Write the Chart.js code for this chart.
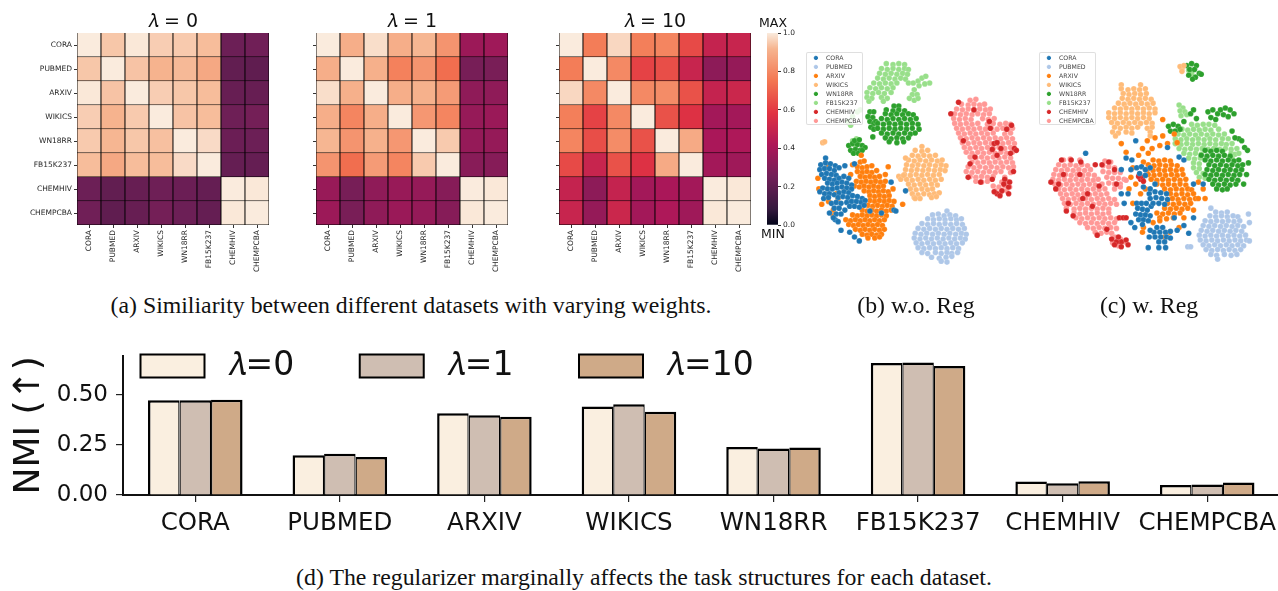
<!DOCTYPE html>
<html>
<head>
<meta charset="utf-8">
<script src="https://cdn.jsdelivr.net/npm/chart.js@4"></script>
<style>
body { margin: 0; background: #fff; overflow: hidden; width: 1278px; height: 591px; position: relative; }
canvas { position: absolute; }
.cap { position: absolute; font-family: "Liberation Serif", serif; font-size: 23.8px; color: #111; white-space: nowrap; transform: translateX(-50%); }
.mm { position: absolute; font-family: "DejaVu Sans", sans-serif; font-size: 12.5px; color: #111; transform: translateX(-50%); }
.legbox { position: absolute; width: 55px; height: 71px; top: 52px; background: rgba(255,255,255,.8); border: 1px solid rgba(215,215,215,.8); border-radius: 2px; }
</style>
</head>
<body>
<canvas id="heat0" width="250" height="285" style="left:20px;top:0"></canvas>
<canvas id="heat1" width="215" height="285" style="left:296px;top:0"></canvas>
<canvas id="heat2" width="215" height="285" style="left:539px;top:0"></canvas>
<canvas id="cbar" width="50" height="215" style="left:767px;top:20px"></canvas>
<div class="mm" style="left:773px;top:15px">MAX</div>
<div class="mm" style="left:773px;top:226px">MIN</div>
<canvas id="scat_b" width="240" height="240" style="left:800px;top:40px"></canvas>
<canvas id="scat_c" width="240" height="240" style="left:1035px;top:40px"></canvas>
<div class="legbox" style="left:806px"></div>
<div class="legbox" style="left:1039px"></div>
<canvas id="leg_b" width="120" height="80" style="left:810px;top:52px"></canvas>
<canvas id="leg_c" width="120" height="80" style="left:1043px;top:52px"></canvas>
<div class="cap" style="left:411px;top:292px">(a) Similiarity between different datasets with varying weights.</div>
<div class="cap" style="left:916px;top:292px">(b) w.o. Reg</div>
<div class="cap" style="left:1149px;top:292px">(c) w. Reg</div>
<canvas id="bars" width="1283" height="216" style="left:0;top:334px"></canvas>
<canvas id="bars_leg" width="800" height="220" style="left:74.5px;top:283.5px"></canvas>
<div class="cap" style="left:644px;top:564px">(d) The regularizer marginally affects the task structures for each dataset.</div>

<script>
const names = ["CORA", "PUBMED", "ARXIV", "WIKICS", "WN18RR", "FB15K237", "CHEMHIV", "CHEMPCBA"];
const lambdas = ["0", "1", "10"];

// similarity matrices
const sim0 = [
	[1, .945, .995, .955, .95, .93, .24, .25],
	[.945, 1, .94, .915, .925, .885, .21, .205],
	[.995, .94, 1, .955, .945, .93, .225, .225],
	[.955, .915, .95, 1, .94, .93, .245, .26],
	[.95, .92, .945, .935, 1, .975, .235, .24],
	[.93, .885, .93, .93, .975, 1, .22, .22],
	[.24, .21, .225, .245, .235, .22, 1, .995],
	[.25, .205, .225, .26, .24, .22, .995, 1]
];
const sim1 = [
	[1, .9, .98, .9, .92, .83, .37, .38],
	[.9, 1, .905, .78, .83, .73, .27, .275],
	[.98, .905, 1, .9, .91, .85, .335, .335],
	[.9, .79, .9, 1, .84, .79, .355, .365],
	[.92, .83, .91, .84, 1, .95, .35, .35],
	[.83, .73, .85, .79, .95, 1, .315, .31],
	[.36, .27, .335, .36, .35, .31, 1, .995],
	[.37, .275, .335, .365, .35, .31, .995, 1]
];
const sim10 = [
	[1, .77, .97, .775, .79, .64, .49, .5],
	[.77, 1, .8, .62, .65, .5, .33, .35],
	[.97, .8, 1, .8, .81, .66, .49, .51],
	[.775, .62, .8, 1, .66, .57, .39, .39],
	[.79, .65, .81, .66, 1, .89, .41, .42],
	[.64, .5, .66, .57, .89, 1, .39, .38],
	[.49, .33, .49, .39, .41, .39, 1, .995],
	[.5, .35, .51, .39, .42, .38, .995, 1]
];

// NMI bars
const nmi0 = [.473, .198, .408, .442, .24, .659, .067, .05];
const nmi1 = [.473, .206, .398, .453, .232, .661, .059, .052];
const nmi10 = [.475, .19, .391, .416, .237, .644, .069, .062];
const nmiTicks = [0, .25, .5];
const barColors = ["#faefe0", "#cfbeb2", "#cfaa88"];

const tab = ["#1f77b4", "#aec7e8", "#ff7f0e", "#ffbb78", "#2ca02c", "#98df8a", "#d62728", "#ff9896"];

// t-SNE points (b) as x,y pairs
const b_cora = [22,118,17,125,22,123,27,124,32,126,16,130,21,129,26,129,31,131,36,128,18,135,23,134,28,135,33,136,21,139,26,140,31,141,36,139,41,137,46,139,24,144,29,145,34,144,39,143,44,144,49,146,19,149,24,150,29,150,34,149,39,148,44,149,49,150,16,153,21,155,26,155,31,156,36,154,41,153,46,154,20,160,25,159,35,159,40,158,45,159,50,157,55,158,60,160,44,164,49,163,54,163,59,164,63,162,47,168,52,168,57,169,62,167,28,165,33,164,38,165,31,170,36,170,42,172,26,175,33,176,38,176,42,126,52,124,90,143,93,172,105,152,38,193,47,195,57,204,52,200,32,182,35,184,80,175,95,173,30,180,68,173];
const b_pubmed = [148,173,133,177,139,176,145,178,151,177,157,178,128,181,134,182,140,181,146,182,152,181,158,182,163,181,122,186,128,187,134,186,140,187,146,186,152,187,158,186,164,187,118,191,124,192,130,191,136,192,142,191,148,192,154,191,160,192,166,191,115,196,121,197,127,196,133,197,139,196,145,197,151,196,157,197,163,196,168,197,114,201,120,202,126,201,132,202,138,201,144,202,150,201,156,202,162,201,167,202,116,206,122,207,128,206,134,207,140,206,146,207,152,206,158,207,164,206,118,211,124,212,130,211,136,212,142,211,148,212,154,211,160,212,122,216,128,217,136,216,142,217,148,216,153,217,159,216,132,221,140,222,147,221,153,220,142,225,148,226];
const b_arxiv = [58,122,62,121,55,127,60,128,65,127,70,126,55,132,60,133,65,132,70,133,75,131,58,137,63,138,68,137,73,138,78,137,54,142,59,143,64,142,69,143,74,142,79,143,84,142,52,147,57,148,62,147,67,148,72,147,77,148,82,147,62,152,67,153,72,152,77,153,82,152,87,153,68,157,73,158,78,157,83,158,88,157,68,162,73,163,78,162,83,163,88,162,93,163,66,167,71,168,76,167,81,168,86,167,91,168,60,172,65,173,70,172,75,173,80,172,85,173,90,172,50,177,55,178,60,177,65,178,70,177,75,178,80,177,85,178,43,182,48,183,53,182,58,183,63,182,68,183,73,182,78,183,83,182,46,187,51,188,56,187,61,188,66,187,71,188,76,187,81,188,53,192,58,193,63,192,68,193,73,192,78,193,83,192,60,197,65,198,70,197,75,198,80,197,66,201,73,201,78,200,87,127,102,166,14,139,18,166,25,163,33,155,50,125,59,115,25,127,30,172,35,160,42,150,48,135,15,150,30,178,92,150,84,135];
const b_wikics = [122,106,115,110,122,111,128,110,112,115,118,116,124,115,130,116,136,115,108,120,114,121,120,120,126,121,132,120,138,121,143,120,106,125,112,126,118,125,124,126,130,125,136,126,142,125,147,126,105,130,111,131,117,130,123,131,129,130,135,131,141,130,146,131,104,135,110,136,116,135,122,136,128,135,134,136,140,135,106,140,112,141,118,140,124,141,130,140,136,141,142,140,108,145,114,146,120,145,126,146,132,145,138,146,110,150,116,151,122,150,128,151,133,150,112,155,118,156,124,155,130,156,135,155,140,154,114,159,120,160,132,159,137,158,98,137,100,140,103,136,105,118,19,102,21,101,115,160];
const b_wn = [68,70,72,70,66,75,71,76,68,80,72,82,69,86,72,88,74,80,71,96,93,64,98,64,85,68,92,69,98,68,104,69,84,72,90,73,96,72,102,73,108,72,113,73,80,77,86,78,92,77,98,78,104,77,110,78,116,77,76,82,82,83,88,82,94,83,100,82,106,83,112,82,118,83,76,87,82,88,88,87,94,88,100,87,106,88,112,87,119,88,80,92,86,93,92,92,98,93,104,92,110,93,115,92,84,97,90,98,96,97,102,98,108,97,88,101,96,102,103,101,46,105,50,103,55,104,60,105,63,107,48,110,53,109,58,110,51,113,56,113,60,110,52,100,57,99];
const b_fb = [85,20,92,21,98,20,104,21,80,25,86,26,92,25,98,26,104,25,108,26,78,30,84,31,90,30,96,31,102,30,107,31,76,35,82,36,88,35,94,36,100,35,105,36,72,40,78,41,84,40,90,41,96,40,68,45,74,46,80,45,86,46,92,45,65,50,71,51,77,50,83,51,90,50,65,55,70,56,80,55,86,56,67,59,82,59,108,40,113,40,118,38,122,35,126,33,130,40,125,41,119,43,114,47,112,52,117,52,109,56,114,58,118,56,50,100,54,98,52,104,56,102,45,80,50,75,55,70,48,84,58,68];
const b_hiv = [152,72,160,60,197,103,200,102,218,108,210,88,177,117,217,132,183,143,200,155,208,140,212,148,197,153,205,152,212,155,203,157,207,145,213,143,220,110,214,113,204,108,195,109,172,124,200,115,193,87,215,84,176,68,192,80,165,100,170,138,195,140];
const b_pcba = [172,58,178,57,163,62,170,63,176,62,182,63,187,62,158,67,164,68,170,67,176,68,182,67,188,68,193,67,156,72,162,73,168,72,174,73,180,72,186,73,192,72,155,77,161,78,167,77,173,78,185,77,191,78,197,77,156,82,162,83,168,82,174,83,180,82,190,83,196,82,203,83,209,82,214,83,158,87,164,88,170,87,176,88,182,87,188,88,194,87,200,88,206,87,212,88,216,87,160,92,166,93,172,92,178,93,184,92,190,93,196,92,208,93,214,92,162,97,168,98,174,97,180,98,186,97,192,98,198,97,204,98,210,97,216,98,164,102,170,103,176,102,182,103,188,102,194,103,200,102,206,103,212,102,218,103,166,107,172,108,178,107,184,108,190,107,196,108,202,107,208,108,214,107,168,112,174,113,180,112,186,113,192,112,198,113,204,112,210,113,216,112,172,117,178,118,184,117,190,118,196,117,202,118,208,117,214,118,174,122,180,123,186,122,192,123,198,122,204,123,210,122,216,123,170,127,176,128,182,127,188,128,194,127,200,128,206,127,212,128,217,127,168,132,174,133,180,132,186,133,192,132,198,133,204,132,214,133,172,137,178,138,184,137,190,138,196,137,208,138,178,142,184,143,190,142,205,143,210,142,196,147,202,148,208,147,213,148,198,152,204,153,210,152];

// same for panel (c)
const c_cora = [101,165,106,165,111,165,116,168,102,170,107,171,112,172,100,176,105,177,110,177,115,178,103,182,108,182,113,183,107,187,114,155,120,153,126,154,132,155,115,160,121,159,127,160,133,161,118,165,124,165,130,166,122,190,128,190,119,195,125,195,131,195,136,194,120,200,126,200,132,200,136,201,124,205,130,205,101,128,106,127,110,130,104,134,110,136,115,128,96,120,90,118,95,130,85,130,100,100,133,107,120,145,108,148,115,150,88,165,92,155,85,155,140,180,143,193,150,188,160,180,155,196,113,211,124,211,131,211,99,190,114,200,115,193,48,113,170,145,160,145,145,117,150,120,95,185];
const c_pubmed = [178,170,183,174,189,175,195,174,177,178,183,179,189,178,195,179,201,178,206,179,172,183,178,184,184,183,190,184,196,183,202,184,208,183,170,188,176,189,182,188,188,189,194,188,200,189,206,188,212,189,168,193,174,194,180,193,186,194,192,193,198,194,204,193,210,194,166,198,172,199,178,198,184,199,190,198,196,199,202,198,208,199,214,198,167,203,173,204,179,203,185,204,191,203,197,204,203,203,209,204,215,203,218,204,170,208,176,209,182,208,188,209,194,208,200,209,206,208,212,209,173,213,179,214,185,213,191,214,197,213,203,214,209,213,178,218,184,219,192,218,199,219,205,218,185,223,154,210,157,210,217,176,218,185];
const c_arxiv = [118,120,124,121,130,120,136,121,113,125,119,126,125,125,131,126,137,125,143,126,112,130,118,131,124,130,130,131,136,130,142,131,148,130,113,135,119,136,125,135,131,136,137,135,143,136,149,135,116,140,122,141,128,140,134,141,140,140,146,141,152,140,122,145,128,146,134,145,140,146,146,145,152,146,130,150,136,151,142,150,148,151,154,150,158,151,136,155,142,156,148,155,154,156,160,155,138,160,144,161,150,160,156,161,162,160,133,165,139,166,145,165,151,166,157,165,130,170,136,171,142,170,148,171,154,170,122,175,128,176,134,175,140,176,146,175,125,180,132,181,139,180,107,108,112,100,120,97,128,95,133,103,117,108,125,105,113,113,103,115,108,122,97,128,95,138,100,145,93,150,97,165,105,155,110,150,85,103,90,112,165,143,170,150,165,160,172,160,160,172,150,180,108,190,107,195,135,195,130,200,125,183,118,185,145,190,140,93,143,102,128,78];
const c_wikics = [85,42,105,42,85,46,92,47,98,46,104,47,110,46,87,51,93,52,99,51,105,52,111,51,86,56,92,57,98,56,104,57,110,56,116,57,82,61,88,62,94,61,100,62,106,61,112,62,118,61,78,66,84,67,90,66,96,67,102,66,108,67,114,66,120,67,72,71,78,72,84,71,90,72,96,71,102,72,108,71,114,72,120,71,72,76,78,77,84,76,90,77,96,76,102,77,108,76,114,77,75,81,81,82,87,81,93,82,99,81,105,82,111,81,117,82,78,86,84,87,90,86,96,87,102,86,112,87,117,86,76,91,82,92,90,91,96,92,115,91,79,95,115,95,148,25,146,23,150,22,148,28];
const c_wn = [172,110,178,111,184,110,190,111,168,115,174,116,180,115,186,116,192,115,198,116,172,120,178,121,184,120,190,121,196,120,202,121,207,120,176,125,182,126,188,125,194,126,200,125,206,126,211,125,174,130,180,131,186,130,192,131,198,130,204,131,210,130,172,135,178,136,184,135,190,136,196,135,202,136,208,135,176,140,182,141,188,140,194,141,200,140,206,141,180,145,186,146,192,145,198,146,204,145,184,150,190,151,195,150,175,70,180,68,185,72,178,76,183,78,188,68,193,66,198,68,202,72,191,73,196,75,134,85,139,83,144,85,136,90,141,90,146,88,153,22,158,20,163,22,156,26,161,26,166,30,162,34,155,32,168,31,159,36,207,98,213,107,217,123,203,97,163,77,150,80,157,72,160,68,200,90,210,100,216,110,215,135,212,145];
const c_fb = [158,83,164,84,170,83,176,83,182,84,148,88,154,89,160,88,166,89,172,88,178,89,186,88,144,93,150,94,156,93,162,94,168,93,174,94,180,93,186,94,192,93,141,98,147,99,153,98,159,99,165,98,171,99,177,98,183,99,190,98,196,98,141,103,147,104,153,103,159,104,165,103,171,104,177,103,183,104,189,103,194,104,200,103,145,108,151,109,157,108,163,109,169,108,175,109,181,108,187,109,193,108,199,109,205,108,150,113,156,114,162,113,168,114,199,113,203,114,207,113,155,118,161,119,167,118,200,118,160,123,166,124,160,128,166,129,163,133,170,134,166,138,172,139,145,63,149,66,146,69,151,70,153,73,147,74,155,27,158,30];
const c_hiv = [23,120,33,120,43,122,58,125,12,143,20,145,28,173,35,178,60,198,85,205,83,180,87,180,90,180,65,125,72,122,78,130,80,145,105,140,107,138,103,137,108,142,62,147,50,155,55,168,45,160,25,135,17,150,30,165,75,202,80,205,90,203,85,210,78,208,92,208,82,200,42,135,70,192];
const c_pcba = [25,120,32,119,42,120,20,125,26,126,32,125,38,126,44,125,50,126,17,130,23,131,29,130,35,131,41,130,47,131,53,130,15,135,21,136,27,135,33,136,39,135,45,136,51,135,57,136,14,140,20,141,26,140,32,141,38,140,44,141,50,140,56,141,61,140,16,145,22,146,28,145,34,146,40,145,46,146,52,145,58,146,65,145,20,150,26,151,32,150,38,151,44,150,50,151,56,150,62,151,68,150,22,155,28,156,34,155,40,156,46,155,52,156,58,155,64,156,70,155,24,160,30,161,36,160,42,161,48,160,54,161,60,160,66,161,72,160,78,161,26,165,32,166,38,165,44,166,50,165,56,166,62,165,68,166,74,165,80,166,28,170,36,171,42,170,48,171,54,170,60,171,66,170,72,171,36,175,42,176,48,175,54,176,60,175,66,176,72,175,38,180,44,181,50,180,56,181,62,180,68,181,74,180,80,181,42,185,48,186,54,185,60,186,66,185,72,186,78,185,50,190,56,191,62,190,68,191,74,190,80,191,58,195,64,196,70,195,75,196,68,121,74,122,66,126,72,127,78,128,66,132,72,133,78,133,84,133,70,138,76,139,82,139,88,140,72,144,78,145,84,145,90,141,78,150,84,148,78,200,84,202,76,206,88,205,82,209];

const scatter_b = [b_cora, b_pubmed, b_arxiv, b_wikics, b_wn, b_fb, b_hiv, b_pcba];
const scatter_c = [c_cora, c_pubmed, c_arxiv, c_wikics, c_wn, c_fb, c_hiv, c_pcba];

// rocket colormap anchors
const rocket_pos = [0, .083, .25, .417, .583, .75, .917, 1];
const rocket_col = [[3,5,26],[53,25,62],[112,31,87],[173,23,89],[225,51,66],[243,118,81],[246,180,143],[250,235,221]];

const sans = "'DejaVu Sans', sans-serif";
Chart.defaults.animation = false;
Chart.defaults.responsive = false;
Chart.defaults.font.family = sans;

function rocket(v) {
	let i = 0;
	while (i < rocket_pos.length - 2 && v > rocket_pos[i + 1]) i++;
	let t = (v - rocket_pos[i]) / (rocket_pos[i + 1] - rocket_pos[i]);
	let c = rocket_col[i].map((a, k) => Math.round(a + (rocket_col[i + 1][k] - a) * t));
	return "rgb(" + c.join(",") + ")";
}

function makeHeat(id, matrix, title, labelW, padRight, showY) {
	new Chart(document.getElementById(id), {
		type: "bar",
		data: {
			labels: names,
			datasets: matrix.map((row, r) => ({
				data: row.map(() => [r, r + 1]),
				backgroundColor: row.map(rocket),
				borderColor: "#000",
				borderWidth: 0.8,
				barPercentage: 1,
				categoryPercentage: 1,
				grouped: false
			}))
		},
		options: {
			layout: { padding: { right: padRight } },
			plugins: {
				legend: { display: false },
				tooltip: { enabled: false },
				title: { display: true, text: title, fullSize: false, color: "#111", font: { size: 19, weight: "normal" }, padding: { top: 10.2, bottom: 0 } }
			},
			scales: {
				x: {
					grid: { offset: false, drawOnChartArea: false, tickLength: 3, color: "#333" },
					border: { display: false },
					ticks: { font: { size: 7.5 }, color: "#262626", minRotation: 90, maxRotation: 90, autoSkip: false, padding: 2 },
					afterFit: s => { s.height = 60; }
				},
				y: {
					min: 0, max: 8, reverse: true,
					grid: { drawOnChartArea: false, tickLength: 3, color: "#333" },
					border: { display: false },
					afterBuildTicks: s => { s.ticks = names.map((n, i) => ({ value: i + .5 })); },
					ticks: { display: showY, font: { size: 7.5 }, color: "#262626", padding: 2, autoSkip: false, callback: v => names[Math.floor(v)] },
					afterFit: s => { s.width = labelW; }
				}
			}
		}
	});
}

function makeScatter(id, groups) {
	new Chart(document.getElementById(id), {
		type: "scatter",
		data: {
			datasets: groups.map((g, i) => {
				let pts = [];
				for (let k = 0; k < g.length; k += 2) pts.push({ x: g[k], y: g[k + 1] });
				return { label: names[i], data: pts, backgroundColor: tab[i], borderColor: "rgba(255,255,255,.35)", borderWidth: .4, pointRadius: 2.8 };
			})
		},
		options: {
			plugins: { legend: { display: false }, tooltip: { enabled: false } },
			scales: {
				x: { display: false, min: 0, max: 240 },
				y: { display: false, min: 0, max: 240, reverse: true }
			}
		}
	});
}

function makeScatterLegend(id) {
	new Chart(document.getElementById(id), {
		type: "scatter",
		data: { datasets: names.map((n, i) => ({ label: "  " + n, data: [], backgroundColor: tab[i], borderColor: tab[i] })) },
		options: {
			plugins: {
				tooltip: { enabled: false },
				legend: {
					position: "left", align: "start",
					labels: { usePointStyle: true, pointStyle: "circle", boxWidth: 6.2, boxHeight: 2.4, padding: 2.8, color: "#444", font: { size: 6.2 } }
				}
			},
			scales: { x: { display: false }, y: { display: false } }
		}
	});
}

makeHeat("heat0", sim0, "𝜆 = " + lambdas[0], 57, 1, true);
makeHeat("heat1", sim1, "𝜆 = " + lambdas[1], 20, 3, false);
makeHeat("heat2", sim10, "𝜆 = " + lambdas[2], 20, 3, false);

// colour bar
new Chart(document.getElementById("cbar"), {
	type: "bar",
	data: {
		labels: [""],
		datasets: [{
			data: [[0, 1]],
			barPercentage: 1,
			categoryPercentage: 1,
			backgroundColor: ctx => {
				let a = ctx.chart.chartArea;
				if (!a) return "#000";
				let g = ctx.chart.ctx.createLinearGradient(0, a.bottom, 0, a.top);
				rocket_pos.forEach((p, i) => g.addColorStop(p, rocket(p)));
				return g;
			}
		}]
	},
	options: {
		layout: { padding: { top: 13, bottom: 10 } },
		plugins: { legend: { display: false }, tooltip: { enabled: false } },
		scales: {
			x: { display: false },
			y: {
				position: "right", min: 0, max: 1,
				grid: { drawOnChartArea: false, tickLength: 3, color: "#333" },
				border: { display: false },
				ticks: { stepSize: .2, font: { size: 7.5 }, color: "#262626", padding: 2, callback: v => v.toFixed(1) },
				afterFit: s => { s.width = 39; }
			}
		}
	}
});

makeScatter("scat_b", scatter_b);
makeScatter("scat_c", scatter_c);
makeScatterLegend("leg_b");
makeScatterLegend("leg_c");

// NMI bars, shared edges kept to one line width
const barSeries = [nmi0, nmi1, nmi10];
const barEdges = [
	{ top: 2.5, left: 2.5, right: 1.3, bottom: 0 },
	{ top: 2.5, left: 1.3, right: 1.3, bottom: 0 },
	{ top: 2.5, left: 1.3, right: 2.5, bottom: 0 }
];
new Chart(document.getElementById("bars"), {
	type: "bar",
	data: {
		labels: names,
		datasets: barSeries.map((s, i) => ({
			label: "𝜆=" + lambdas[i], data: s, backgroundColor: barColors[i], borderColor: "#000", borderWidth: barEdges[i],
			barPercentage: 1, categoryPercentage: .654
		}))
	},
	options: {
		layout: { padding: { top: 11 } },
		plugins: { legend: { display: false }, tooltip: { enabled: false } },
		scales: {
			x: {
				grid: { offset: false, drawOnChartArea: false, tickLength: 7, color: "#222", lineWidth: 1.2 },
				border: { color: "#111", width: 2 },
				ticks: { font: { size: 24.5 }, color: "#111", padding: 7, autoSkip: false, maxRotation: 0 },
				afterFit: s => { s.height = 55; }
			},
			y: {
				min: 0, max: .695,
				grid: { drawOnChartArea: false, tickLength: 7, color: "#222", lineWidth: 1.2 },
				border: { color: "#111", width: 2 },
				afterBuildTicks: s => { s.ticks = nmiTicks.map(v => ({ value: v })); },
				ticks: { font: { size: 23 }, color: "#111", padding: 8, callback: v => v.toFixed(2) },
				title: { display: true, text: "NMI (↑)", font: { size: 36 }, color: "#111", padding: { top: 8, bottom: 0 } },
				afterFit: s => { s.width = 123; }
			}
		}
	}
});

// legend sits over the plot, so it gets its own layer
new Chart(document.getElementById("bars_leg"), {
	type: "bar",
	data: { datasets: barSeries.map((s, i) => ({ label: "\u2009𝜆=" + lambdas[i], data: [], backgroundColor: barColors[i], borderColor: "#000", borderWidth: 2 })) },
	options: {
		plugins: {
			tooltip: { enabled: false },
			legend: { position: "top", align: "start", labels: { boxWidth: 64, boxHeight: 23, padding: 65.5, color: "#111", font: { size: 33 } } }
		},
		scales: { x: { display: false }, y: { display: false } }
	}
});
</script>
</body>
</html>
